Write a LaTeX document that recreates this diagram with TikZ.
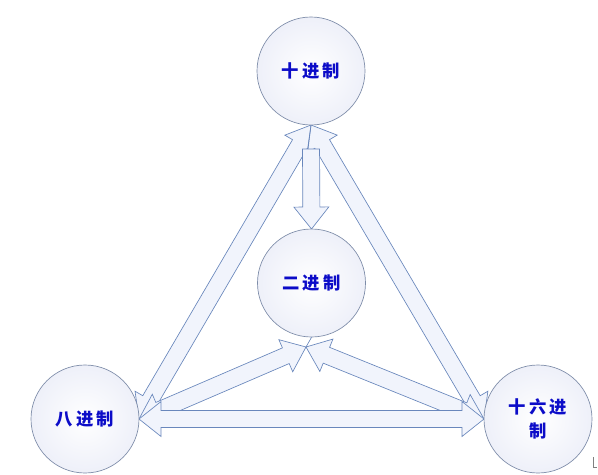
\documentclass[tikz,border=0pt]{standalone}
\usepackage{fontspec}
\newfontfamily\cjk[LetterSpace=18]{Noto Sans CJK SC}
\usetikzlibrary{calc}
\definecolor{circleline}{RGB}{125,140,168}
\definecolor{circlefill}{RGB}{238,240,249}
\definecolor{arrowline}{RGB}{105,135,188}
\definecolor{arrowfill}{RGB}{241,244,252}
\definecolor{textblue}{RGB}{12,12,200}
\def\hl{16.5pt}
\def\hw{13.1pt}
\def\sw{6.4pt}
\newcommand\blockdbl[2]{%
  \draw[blockarrow] (#1)
    -- ($(#1)!\hl!(#2)!\hw!90:(#2)$)
    -- ($(#1)!\hl!(#2)!\sw!90:(#2)$)
    -- ($(#2)!\hl!(#1)!\sw!-90:(#1)$)
    -- ($(#2)!\hl!(#1)!\hw!-90:(#1)$)
    -- (#2)
    -- ($(#2)!\hl!(#1)!\hw!90:(#1)$)
    -- ($(#2)!\hl!(#1)!\sw!90:(#1)$)
    -- ($(#1)!\hl!(#2)!\sw!-90:(#2)$)
    -- ($(#1)!\hl!(#2)!\hw!-90:(#2)$)
    -- cycle;}
\newcommand\blocksgl[2]{%
  \draw[blockarrow]
       ($(#1)!\sw!90:(#2)$)
    -- ($(#2)!\hl!(#1)!\sw!-90:(#1)$)
    -- ($(#2)!\hl!(#1)!\hw!-90:(#1)$)
    -- (#2)
    -- ($(#2)!\hl!(#1)!\hw!90:(#1)$)
    -- ($(#2)!\hl!(#1)!\sw!90:(#1)$)
    -- ($(#1)!\sw!-90:(#2)$)
    -- cycle;}
\tikzset{
  numsys/.style={circle, draw=circleline, line width=0.5pt, inner sep=0pt,
    minimum size=81pt, inner color=white, outer color=circlefill,
    text=textblue, font=\cjk\bfseries\fontsize{13pt}{18pt}\selectfont, align=center},
  blockarrow/.style={draw=arrowline, line width=0.5pt, fill=arrowfill, line join=miter},
  thinlink/.style={draw=arrowline, line width=0.5pt}
}
\begin{document}
\begin{tikzpicture}[x=0.75pt, y=-0.75pt]
\useasboundingbox (0,0) rectangle (598,474);
\path (311,71) coordinate (c10) (311.5,283) coordinate (c2)
      (85,419) coordinate (c8) (538,419) coordinate (c16);
\coordinate (t10) at (311,125);
\coordinate (t8) at (139,419);
\coordinate (t16) at (484,419);
\coordinate (t2) at (306,347);
\coordinate (tail) at (311,149);
\coordinate (t2top) at (311.5,229);
% arrows
\blockdbl{t10}{t8}
\blockdbl{t10}{t16}
\blockdbl{t8}{t2}
\blockdbl{t16}{t2}
\blockdbl{t8}{t16}
\blocksgl{tail}{t2top}
% circles
\node[numsys] (dec) at (c10) {十进制};
\node[numsys] (bin) at (c2) {二进制};
\node[numsys] (oct) at (c8) {八进制};
\node[numsys] (hex) at (c16) {十六进\\制};
% thin links
\draw[thinlink] (dec.south) -- (308,149);
\draw[thinlink] (t2) -- (bin.south);
% corner mark
\draw[gray, line width=0.5pt] (593,457) -- (593,467) -- (597,467);
\end{tikzpicture}
\end{document}
